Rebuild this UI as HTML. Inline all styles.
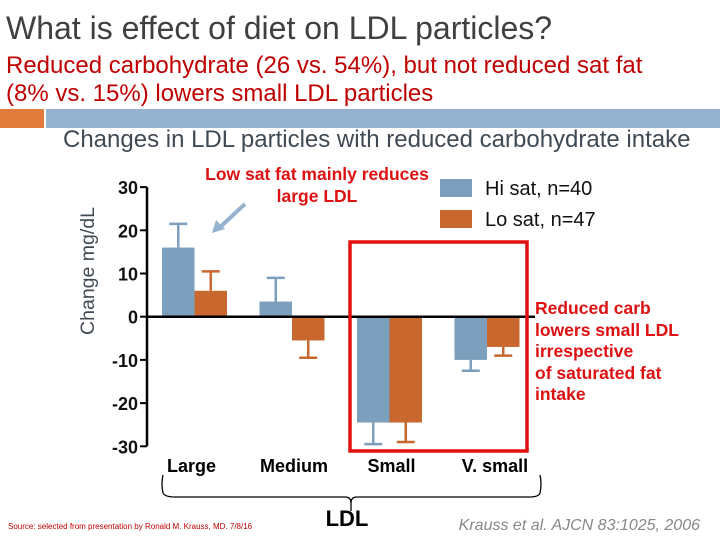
<!DOCTYPE html>
<html><head><meta charset="utf-8"><style>
body{margin:0;width:720px;height:540px;background:#fff;overflow:hidden;font-family:"Liberation Sans",sans-serif;position:relative}
.t{position:absolute;white-space:nowrap}
</style></head><body>
<div class="t" style="left:6px;top:10px;font-size:32px;color:#404040">What is effect of diet on LDL particles?</div>
<div class="t" style="left:6px;top:52px;font-size:24px;line-height:28px;color:#c00000">Reduced carbohydrate (26 vs. 54%), but not reduced sat fat<br>(8% vs. 15%) lowers small LDL particles</div>
<div style="position:absolute;left:0;top:109px;width:44px;height:19px;background:#e07b3c"></div>
<div style="position:absolute;left:46px;top:109px;width:674px;height:19px;background:#95b3d0"></div>
<div class="t" style="left:63px;top:126px;font-size:24px;color:#404a55">Changes in LDL particles with reduced carbohydrate intake</div>
<svg width="720" height="540" style="position:absolute;left:0;top:0">
<g id="g"></g>
</svg>
<script>
const categories=["Large","Medium","Small","V. small"];
const hiSat=[16,3.5,-24.5,-10];
const hiErr=[21.5,9,-29.5,-12.5];
const loSat=[6,-5.5,-24.5,-7];
const loErr=[10.5,-9.5,-29,-9];
const ticks=[30,20,10,0,-10,-20,-30];
const NS="http://www.w3.org/2000/svg";
const g=document.getElementById('g');
const y=v=>316.7-v*4.32;
const cx=i=>194.5+i*97.5;
function el(t,a,txt){const e=document.createElementNS(NS,t);for(const k in a)e.setAttribute(k,a[k]);if(txt!==undefined)e.textContent=txt;g.appendChild(e);return e;}
let ax=el('line',{x1:147,y1:y(30),x2:147,y2:y(-30),stroke:'#000','stroke-width':2.5});


ticks.forEach(t=>{
 let l=el('line',{x1:140,y1:y(t),x2:147,y2:y(t),stroke:'#000','stroke-width':2});
 
 
 let tx=el('text',{x:138,y:y(t)+7,'text-anchor':'end','font-size':18,'font-weight':'bold',fill:'#111'},t);
 
 
});
function bar(x,v,e,col,nm){
 const top=Math.min(y(0),y(v)),h=Math.abs(y(v)-y(0));
 let r=el('rect',{x:x,y:top,width:32.5,height:h,fill:col});
 
 
 let m=x+16.25;
 let l=el('path',{d:`M${m} ${y(v)}V${y(e)}M${m-9} ${y(e)}H${m+9}`,stroke:col,'stroke-width':2.5,fill:'none'});
 
 
}
categories.forEach((c,i)=>{
 bar(cx(i)-32.5,hiSat[i],hiErr[i],'#7b9fbd','bar-hi-sat');
 bar(cx(i),loSat[i],loErr[i],'#c8682f','bar-lo-sat');
 let tx=el('text',{x:cx(i)-(i==0?3:i==3?-8:-2),y:472,'text-anchor':'middle','font-size':18,'font-weight':'bold',fill:'#000'},c);
 
 
});
let z=el('line',{x1:147,y1:y(0),x2:535,y2:y(0),stroke:'#000','stroke-width':2.5});


</script>
<svg width="720" height="540" style="position:absolute;left:0;top:0">
<text transform="translate(94,271) rotate(-90)" text-anchor="middle" font-size="19.5" fill="#404a55" font-family="Liberation Sans">Change mg/dL</text>
<rect x="350" y="242" width="177" height="209" fill="none" stroke="#e01010" stroke-width="3.5"/>
<text font-size="17.5" font-weight="bold" fill="#dd1111" text-anchor="middle" font-family="Liberation Sans"><tspan x="317" y="180">Low sat fat mainly reduces</tspan><tspan x="317" y="202">large LDL</tspan></text>
<path d="M245 204 L218 229" stroke="#95b3d0" stroke-width="4"/>
<path d="M212 233 L216 220 L225 229Z" fill="#95b3d0"/>
<text font-size="17.5" font-weight="bold" fill="#dd1111" font-family="Liberation Sans"><tspan x="535" y="314">Reduced carb</tspan><tspan x="535" y="336">lowers small LDL</tspan><tspan x="535" y="357">irrespective</tspan><tspan x="535" y="379">of saturated fat</tspan><tspan x="535" y="400">intake</tspan></text>
<rect x="440" y="179" width="32" height="18" fill="#7b9fbd"/>
<rect x="440" y="210" width="32" height="18" fill="#c8682f"/>
<text x="485" y="195" font-size="20" fill="#111" font-family="Liberation Sans">Hi sat, n=40</text>
<text x="485" y="226" font-size="20" fill="#111" font-family="Liberation Sans">Lo sat, n=47</text>
<path d="M163 475 Q161 484 163 493 Q165 497 175 497 H345 Q351 497 351 503 V511 M351 503 Q351 497 357 497 H529 Q539 497 540 493 Q542 484 540 475" stroke="#000" stroke-width="1.3" fill="none"/>
<text x="347" y="526" text-anchor="middle" font-size="22" font-weight="bold" fill="#000" font-family="Liberation Sans">LDL</text>
<text x="8" y="529" font-size="8" fill="#c00000" font-family="Liberation Sans">Source: selected from presentation by Ronald M. Krauss, MD. 7/8/16</text>
<text x="700" y="530" text-anchor="end" font-size="16" font-style="italic" fill="#888" font-family="Liberation Sans">Krauss et al. AJCN 83:1025, 2006</text>
</svg>
</body></html>
